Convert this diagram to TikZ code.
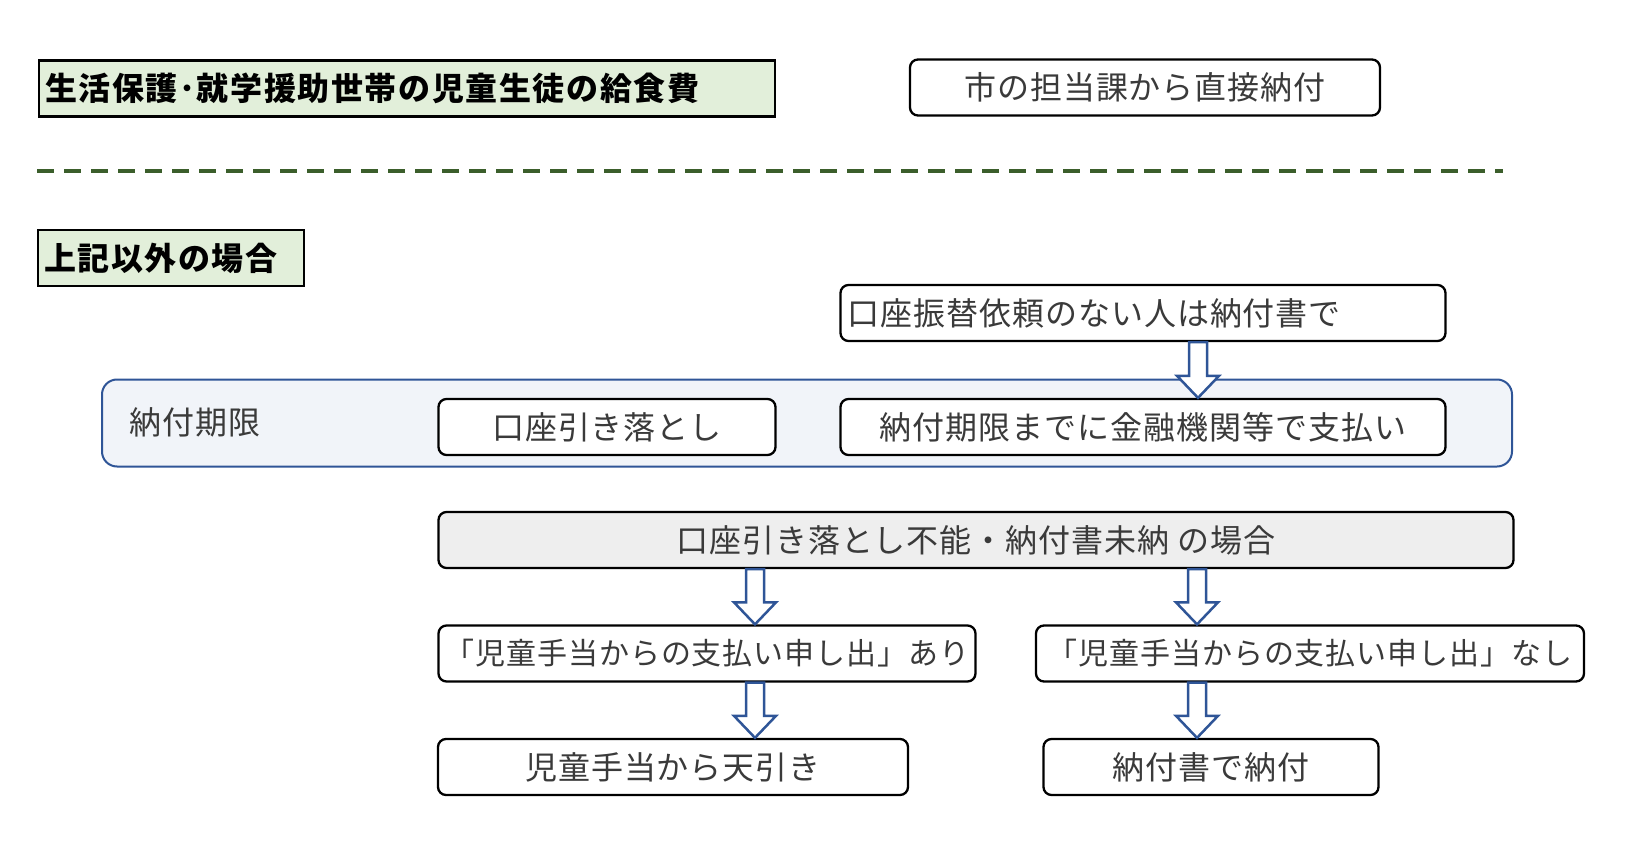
\documentclass[tikz,border=0pt]{standalone}
\usepackage{fontspec}
\setmainfont{Noto Sans CJK JP}[LetterSpace=3]
\usetikzlibrary{calc}

\definecolor{headgreen}{HTML}{E2EFDA}
\definecolor{dashgreen}{HTML}{3B5E2B}
\definecolor{arrowblue}{HTML}{2F5597}
\definecolor{framefill}{HTML}{F1F4F9}
\definecolor{casegray}{HTML}{EEEEEE}
\definecolor{textgray}{HTML}{3A3A3A}

\newcommand{\boxfont}{\fontsize{32pt}{38pt}\selectfont}
\newcommand{\smallboxfont}{\fontsize{30pt}{36pt}\selectfont}
% hollow block arrow: x position, upper node, lower node
\newcommand{\fatarrow}[3]{%
  \draw[fatarrow] let \p1=(#2.south), \p2=(#3.north) in
    (#1pt-9pt,\y1) -- (#1pt+9pt,\y1) -- (#1pt+9pt,\y2+22pt) -- (#1pt+21pt,\y2+22pt)
    -- (#1pt,\y2) -- (#1pt-21pt,\y2+22pt) -- (#1pt-9pt,\y2+22pt) -- cycle;}

\begin{document}
\begin{tikzpicture}[x=1pt,y=-1pt,
    headbox/.style={draw, line width=2.5pt, fill=headgreen, font=\boxfont\bfseries\addfontfeature{LetterSpace=5}, minimum height=56pt, inner xsep=6pt, align=left},
    stepbox/.style={draw, line width=2.3pt, rounded corners=8pt, fill=white, text=textgray, font=\boxfont, minimum height=56pt, inner xsep=6pt},
    fatarrow/.style={draw=arrowblue, line width=2.5pt, fill=white, line join=miter}]
  \useasboundingbox (0,0) rectangle (1633,848);  % page size
  % upper part
  \node[headbox, text width=724pt] (welfare) at (407,88.5) {生活保護･就学援助世帯の児童生徒の給食費};  % green title
  \node[stepbox, minimum width=470pt] (direct) at (1145,87.5) {市の担当課から直接納付};  % city pays
  \draw[dashgreen, line width=4.5pt, dash pattern=on 17pt off 10pt] (37,171) -- (1503,171);  % separator
  % lower part
  \node[headbox, text width=254pt] (other) at (171,258) {上記以外の場合};  % green title
  \node[stepbox, minimum width=605pt, text width=591pt, align=left] (noacct) at (1143,313) {口座振替依頼のない人は納付書で};
  \node[draw=arrowblue, line width=2pt, rounded corners=15pt, fill=framefill, minimum width=1410pt, minimum height=87pt] (deadline) at (807,423) {};  % frame
  \node[anchor=west, text=textgray, font=\boxfont] (deadlinelabel) at (126,422) {納付期限};
  \node[stepbox, minimum width=337pt] (debit) at (607,427) {口座引き落とし};
  \node[stepbox, minimum width=605pt] (bank) at (1143,427) {納付期限までに金融機関等で支払い};
  \node[stepbox, fill=casegray, minimum width=1075pt] (unpaid) at (976,540) {口座引き落とし不能・納付書未納 の場合};
  \node[stepbox, font=\smallboxfont, minimum width=537pt] (offer) at (707,653.5) {「児童手当からの支払い申し出」あり};
  \node[stepbox, font=\smallboxfont, minimum width=548pt] (nooffer) at (1310,653.5) {「児童手当からの支払い申し出」なし};
  \node[stepbox, minimum width=470pt] (deduct) at (673,767) {児童手当から天引き};
  \node[stepbox, minimum width=335pt] (slip) at (1211,767) {納付書で納付};
  % arrows
  \fatarrow{1198}{noacct}{bank}
  \fatarrow{755}{unpaid}{offer}
  \fatarrow{1197}{unpaid}{nooffer}
  \fatarrow{755}{offer}{deduct}
  \fatarrow{1197}{nooffer}{slip}
\end{tikzpicture}
\end{document}
